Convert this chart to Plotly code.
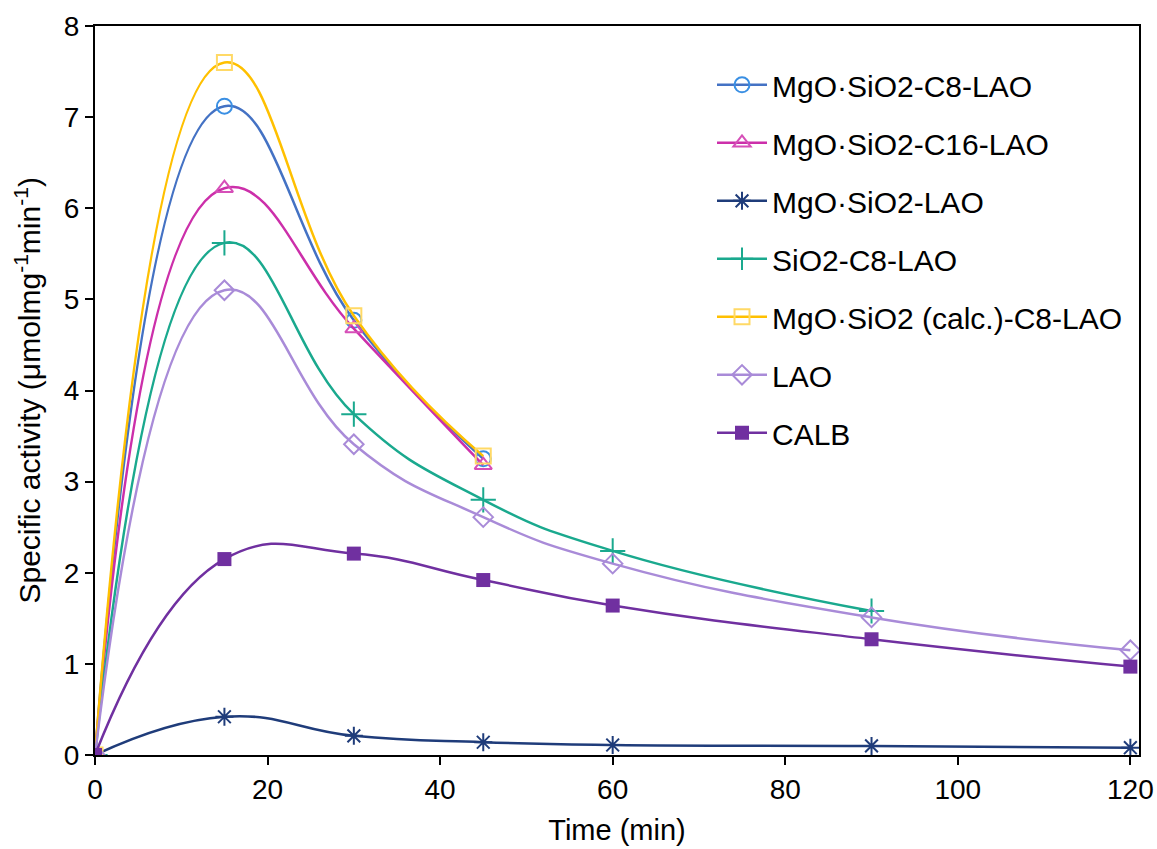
import plotly.graph_objects as go

time_min = [0, 15, 30, 45, 60, 90, 120]

mgo_sio2_c8_lao = [0, 7.12, 4.77, 3.25]
mgo_sio2_c16_lao = [0, 6.22, 4.68, 3.18]
mgo_sio2_lao = [0, 0.42, 0.21, 0.14, 0.11, 0.10, 0.08]
sio2_c8_lao = [0, 5.62, 3.74, 2.80, 2.24, 1.58]
mgo_sio2_calc_c8_lao = [0, 7.60, 4.82, 3.28]
lao = [0, 5.10, 3.41, 2.61, 2.10, 1.51, 1.15]
calb = [0, 2.15, 2.21, 1.92, 1.64, 1.27, 0.97]

series_names = [
    "MgO·SiO2-C8-LAO",
    "MgO·SiO2-C16-LAO",
    "MgO·SiO2-LAO",
    "SiO2-C8-LAO",
    "MgO·SiO2 (calc.)-C8-LAO",
    "LAO",
    "CALB",
]
series_values = [mgo_sio2_c8_lao, mgo_sio2_c16_lao, mgo_sio2_lao, sio2_c8_lao,
                 mgo_sio2_calc_c8_lao, lao, calb]

styles = [
    dict(line="#4472C4", marker="#3A8FE3", symbol="circle-open", size=15, fill=False),
    dict(line="#CC2FAA", marker="#D64FB8", symbol="triangle-up-open", size=15, fill=False),
    dict(line="#1F3C7A", marker="#1F3C7A", symbol="asterisk-open", size=15, fill=False),
    dict(line="#1AA98E", marker="#1AA98E", symbol="cross-thin-open", size=18, fill=False),
    dict(line="#FFC000", marker="#FFD966", symbol="square-open", size=15, fill=False),
    dict(line="#A98BD8", marker="#A98BD8", symbol="diamond-open", size=15, fill=False),
    dict(line="#7030A0", marker="#7030A0", symbol="square", size=14, fill=True),
]

FONT = "Arial, Liberation Sans, sans-serif"
Y_TITLE = "Specific activity (μmolmg<sup>-1</sup>min<sup>-1</sup>)"

fig = go.Figure()
for i, (name, vals, st) in enumerate(zip(series_names, series_values, styles)):
    x = time_min[:len(vals)]
    if st["fill"]:
        marker = dict(symbol=st["symbol"], size=st["size"], color=st["marker"],
                      line=dict(width=0))
    else:
        marker = dict(symbol=st["symbol"], size=st["size"], color=st["marker"],
                      line=dict(width=2, color=st["marker"]))
    fig.add_trace(go.Scatter(
        x=x, y=vals, name=name, mode="lines+markers",
        line=dict(color=st["line"], width=2.5, shape="spline", smoothing=1.3),
        marker=marker, legendgroup=f"g{i}",
    ))

fig.update_layout(
    width=1157, height=849,
    margin=dict(l=95, r=18, t=26, b=94),
    paper_bgcolor="white", plot_bgcolor="white",
    font=dict(family=FONT, size=28, color="black"),
    showlegend=True,
    legend=dict(
        x=0.591, y=0.955, xanchor="left", yanchor="top",
        font=dict(family=FONT, size=30, color="black"),
        bgcolor="rgba(0,0,0,0)", tracegroupgap=16, itemwidth=50,
        traceorder="grouped",
    ),
    xaxis=dict(
        range=[0, 121], tickvals=[0, 20, 40, 60, 80, 100, 120],
        ticks="outside", ticklen=8, tickwidth=2, tickcolor="black",
        showline=True, linecolor="black", linewidth=2, mirror=True,
        showgrid=False, zeroline=False, automargin=False,
        title=dict(text="Time (min)", standoff=16, font=dict(size=29)),
        tickfont=dict(size=28),
    ),
    yaxis=dict(
        range=[0, 8], tickvals=[0, 1, 2, 3, 4, 5, 6, 7, 8],
        ticks="outside", ticklen=8, tickwidth=2, tickcolor="black",
        showline=True, linecolor="black", linewidth=2, mirror=True,
        showgrid=False, zeroline=False, automargin=False,
        tickfont=dict(size=28),
    ),
    annotations=[dict(
        text=Y_TITLE, xref="paper", yref="paper", x=-0.0651, y=0.5,
        xanchor="center", yanchor="middle", textangle=-90, showarrow=False,
        font=dict(family=FONT, size=30, color="black"),
    )],
)

fig.write_html("out.html")
